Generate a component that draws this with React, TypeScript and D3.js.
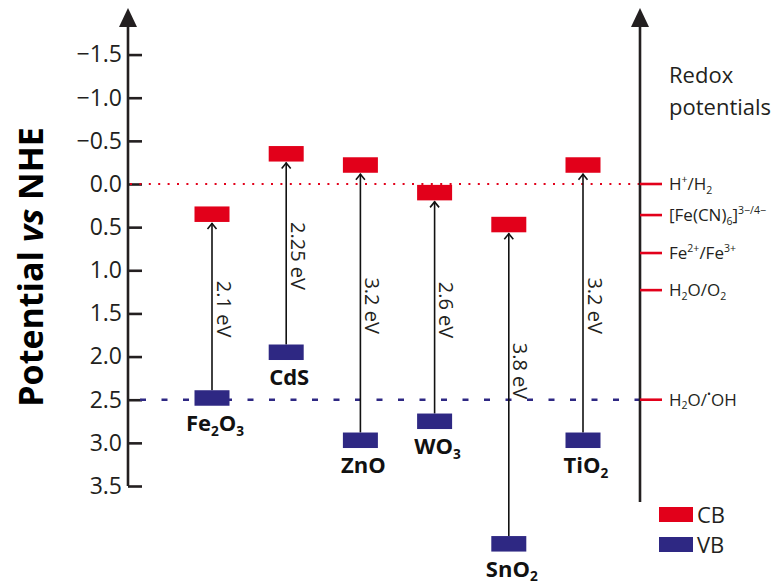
import React, { useEffect, useRef } from 'react';
import * as d3 from 'd3';

// band edges (V vs NHE)
const materials = ['Fe2O3', 'CdS', 'ZnO', 'WO3', 'SnO2', 'TiO2'];
const cbEdges = [0.35, -0.35, -0.22, 0.1, 0.47, -0.22];
const vbEdges = [2.48, 1.95, 2.97, 2.75, 4.17, 2.97];
const gapLabels = ['2.1 eV', '2.25 eV', '3.2 eV', '2.6 eV', '3.8 eV', '3.2 eV'];

const redoxCouples = ['H^{+}/H_{2}', '[Fe(CN)_{6}]^{3−/4−}', 'Fe^{2+}/Fe^{3+}', 'H_{2}O/O_{2}', 'H_{2}O/^{•}OH'];
const redoxValues = [0, 0.36, 0.8, 1.23, 2.5];

const potentialTicks = [-1.5, -1.0, -0.5, 0.0, 0.5, 1.0, 1.5, 2.0, 2.5, 3.0, 3.5];
const legendItems = ['CB', 'VB'];

const RED = '#e2001a';
const BLUE = '#2e2883';
const DARK = '#231f20';
const FONT = '"Open Sans", "Noto Sans", sans-serif';

// split "H_{2}O^{+}" style markup into parts
function parseMarkup(s) {
  return s.split(/(\^\{[^}]*\}|_\{[^}]*\})/).filter(p => p.length).map(p => {
    if (p.startsWith('^{')) return { t: p.slice(2, -1), k: 'sup' };
    if (p.startsWith('_{')) return { t: p.slice(2, -1), k: 'sub' };
    return { t: p, k: '' };
  });
}

function formula(name) {
  return name.replace(/(\d)/g, '_{$1}');
}

function richText(text, s, size) {
  let shift = 0;
  parseMarkup(s).forEach(p => {
    const target = p.k === 'sup' ? -0.42 * size : p.k === 'sub' ? 0.22 * size : 0;
    text.append('tspan')
      .attr('dy', target - shift)
      .attr('font-size', p.k ? size * 0.62 : size)
      .text(p.t);
    shift = target;
  });
}

function App() {
  const svgRef = useRef(null);

  useEffect(() => {
    const svg = d3.select(svgRef.current);
    svg.selectAll('*').remove();

    const axisX = 128;
    const rightX = 640;
    const y = d3.scaleLinear().domain([0, 3.5]).range([184, 486]);
    const x = d3.scalePoint().domain(materials).range([212, 583]);

    const arrowHead = (cx) => `M${cx},8 L${cx + 9},27 L${cx - 9},27 Z`;

    // left axis
    svg.append('line')
      .attr('x1', axisX).attr('x2', axisX)
      .attr('y1', y(3.5)).attr('y2', 20)
      .attr('stroke', DARK).attr('stroke-width', 2.6);
    svg.append('path').attr('d', arrowHead(axisX)).attr('fill', DARK);

    const axis = svg.append('g')
      .attr('transform', `translate(${axisX},0)`)
      .call(d3.axisLeft(y).tickValues(potentialTicks).tickSize(-14).tickPadding(6).tickFormat(d3.format('.1f')));
    axis.select('.domain').remove();
    axis.selectAll('line').attr('stroke', DARK).attr('stroke-width', 2.6);
    axis.selectAll('text')
      .attr('font-family', FONT)
      .attr('font-size', 23)
      .attr('fill', DARK);

    // axis title
    const title = svg.append('text')
      .attr('transform', 'translate(43,267) rotate(-90)')
      .attr('text-anchor', 'middle')
      .attr('font-family', FONT)
      .attr('font-weight', 700)
      .attr('font-size', 34)
      .attr('fill', '#000');
    title.append('tspan').text('Potential ');
    title.append('tspan').attr('font-style', 'italic').text('vs');
    title.append('tspan').text(' NHE');

    // reference lines
    svg.append('line')
      .attr('x1', axisX + 2).attr('x2', rightX)
      .attr('y1', y(0)).attr('y2', y(0))
      .attr('stroke', RED).attr('stroke-width', 2)
      .attr('stroke-dasharray', '2,7.4');
    svg.append('line')
      .attr('x1', axisX + 12).attr('x2', rightX)
      .attr('y1', y(2.5)).attr('y2', y(2.5))
      .attr('stroke', BLUE).attr('stroke-width', 2.6)
      .attr('stroke-dasharray', '6,15.5');

    // right axis
    svg.append('line')
      .attr('x1', rightX).attr('x2', rightX)
      .attr('y1', 502).attr('y2', 20)
      .attr('stroke', DARK).attr('stroke-width', 2.6);
    svg.append('path').attr('d', arrowHead(rightX)).attr('fill', DARK);

    const rt = svg.append('text')
      .attr('font-family', FONT).attr('font-size', 22).attr('fill', DARK);
    rt.append('tspan').attr('x', 669).attr('y', 83).text('Redox');
    rt.append('tspan').attr('x', 669).attr('y', 115).text('potentials');

    redoxCouples.forEach((c, i) => {
      const yy = y(redoxValues[i]);
      svg.append('line')
        .attr('x1', rightX).attr('x2', rightX + 22)
        .attr('y1', yy).attr('y2', yy)
        .attr('stroke', RED).attr('stroke-width', 2.6);
      const t = svg.append('text')
        .attr('x', 669).attr('y', yy + 5.8)
        .attr('font-family', FONT).attr('fill', DARK);
      richText(t, c, 17);
    });

    // bands
    const bw = 35, bh = 15.5;
    materials.forEach((m, i) => {
      const cx = x(m);
      const yc = y(cbEdges[i]);
      const yv = y(vbEdges[i]);

      svg.append('line')
        .attr('x1', cx).attr('x2', cx)
        .attr('y1', yv - bh / 2).attr('y2', yc + bh / 2 + 1)
        .attr('stroke', '#111').attr('stroke-width', 1.6);
      svg.append('path')
        .attr('d', `M${cx - 4.5},${yc + bh / 2 + 7} L${cx},${yc + bh / 2 + 1.5} L${cx + 4.5},${yc + bh / 2 + 7}`)
        .attr('fill', 'none').attr('stroke', '#111').attr('stroke-width', 1.6);

      svg.append('rect')
        .attr('x', cx - bw / 2).attr('y', yc - bh / 2)
        .attr('width', bw).attr('height', bh)
        .attr('fill', RED);
      svg.append('rect')
        .attr('x', cx - bw / 2).attr('y', yv - bh / 2)
        .attr('width', bw).attr('height', bh)
        .attr('fill', BLUE);

      const mid = Math.min((yc + yv) / 2, 368) + 3;
      svg.append('text')
        .attr('transform', `translate(${cx + 4.5},${mid}) rotate(90)`)
        .attr('text-anchor', 'middle')
        .attr('font-family', FONT).attr('font-size', 20)
        .attr('fill', DARK)
        .text(gapLabels[i]);

      const lbl = svg.append('text')
        .attr('x', cx + 3).attr('y', yv + bh / 2 + 25)
        .attr('text-anchor', 'middle')
        .attr('font-family', FONT).attr('font-weight', 700)
        .attr('fill', '#111');
      richText(lbl, formula(m), 22);
    });

    // legend
    legendItems.forEach((d, i) => {
      svg.append('rect')
        .attr('x', 659).attr('y', 507 + i * 30)
        .attr('width', 34).attr('height', 15)
        .attr('fill', i === 0 ? RED : BLUE);
      svg.append('text')
        .attr('x', 697).attr('y', 523 + i * 30)
        .attr('font-family', FONT).attr('font-size', 22)
        .attr('fill', DARK)
        .text(d);
    });
  }, []);

  return (
    <svg ref={svgRef} width={783} height={584}
      style={{ position: 'absolute', left: 0, top: 0, background: '#fff' }} />
  );
}

export default App;
